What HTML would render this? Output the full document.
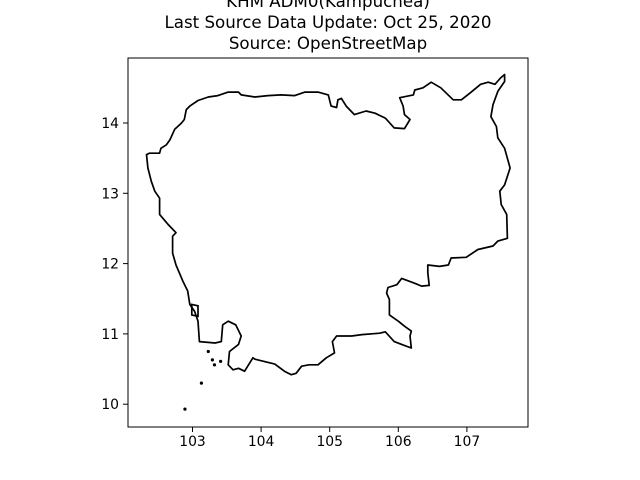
<!DOCTYPE html>
<html><head><meta charset="utf-8">
<style>
html,body{margin:0;padding:0;background:#fff;}
svg{display:block;font-family:"DejaVu Sans","Liberation Sans",sans-serif;}
</style></head>
<body>
<svg id="chart" width="640" height="480" viewBox="0 0 640 480">
  <g font-size="16.67" text-anchor="middle" fill="#000">
    <text x="328" y="7">KHM ADM0(Kampuchea)</text>
    <text x="328" y="28">Last Source Data Update: Oct 25, 2020</text>
    <text x="328" y="49">Source: OpenStreetMap</text>
  </g>
  <g id="plot"></g>
  <rect x="128" y="58" width="400" height="369" fill="none" stroke="#000" stroke-width="1"/>
  <g id="axes"></g>
</svg>
<script>
const lons = [102.33,102.37,102.52,102.54,102.62,102.67,102.74,102.84,102.88,102.91,102.96,103.08,103.23,103.37,103.52,103.67,103.71,103.91,104.10,104.29,104.49,104.64,104.83,104.98,105.02,105.10,105.12,105.17,105.24,105.36,105.53,105.66,105.81,105.94,106.09,106.17,106.09,106.07,106.02,106.22,106.24,106.36,106.48,106.62,106.80,106.92,107.05,107.20,107.31,107.41,107.49,107.55,107.55,107.45,107.38,107.35,107.43,107.45,107.55,107.63,107.55,107.48,107.50,107.58,107.59,107.45,107.38,107.16,106.99,106.77,106.73,106.60,106.43,106.43,106.45,106.34,106.24,106.05,105.98,105.85,105.83,105.87,105.87,106.00,106.09,106.19,106.17,106.19,106.05,105.94,105.81,105.73,105.47,105.32,105.10,105.04,105.07,104.95,104.83,104.70,104.59,104.51,104.44,104.34,104.20,103.91,103.88,103.76,103.67,103.59,103.52,103.54,103.67,103.71,103.63,103.52,103.44,103.42,103.33,103.10,103.08,103.03,102.96,102.93,102.86,102.76,102.71,102.71,102.76,102.65,102.52,102.52,102.45,102.40,102.35];
const lats = [13.55,13.57,13.57,13.64,13.69,13.76,13.91,14.00,14.05,14.19,14.24,14.32,14.37,14.39,14.44,14.44,14.40,14.37,14.39,14.40,14.39,14.44,14.44,14.40,14.24,14.22,14.33,14.35,14.24,14.12,14.17,14.14,14.07,13.93,13.92,14.05,14.12,14.24,14.36,14.40,14.47,14.50,14.58,14.50,14.33,14.33,14.43,14.55,14.58,14.55,14.64,14.69,14.59,14.45,14.26,14.09,13.95,13.79,13.64,13.36,13.12,13.03,12.84,12.70,12.36,12.32,12.25,12.20,12.09,12.08,11.98,11.96,11.98,11.87,11.69,11.68,11.72,11.79,11.70,11.66,11.58,11.49,11.27,11.18,11.11,11.04,10.97,10.80,10.85,10.89,11.03,11.01,10.99,10.97,10.97,10.89,10.73,10.66,10.56,10.56,10.54,10.44,10.42,10.47,10.57,10.64,10.66,10.47,10.51,10.49,10.56,10.75,10.85,10.97,11.13,11.18,11.13,10.89,10.87,10.89,11.18,11.32,11.42,11.61,11.75,11.98,12.15,12.39,12.44,12.55,12.70,12.93,13.03,13.17,13.36];
const islandLons = [102.99,103.08,103.08,102.99];
const islandLats = [11.42,11.40,11.25,11.27];
const dotLons = [103.23,103.29,103.41,103.13,102.89,103.32];
const dotLats = [10.75,10.63,10.61,10.30,9.93,10.56];
const xTicks = [103,104,105,106,107];
const yTicks = [10,11,12,13,14];

const NS='http://www.w3.org/2000/svg';
function xs(lon){return 192.5+(lon-103)*68.6;}
function ys(lat){return 123-(lat-14)*70.3;}
const plot=document.getElementById('plot');
const axes=document.getElementById('axes');
function mk(tag,attrs,parent){const e=document.createElementNS(NS,tag);for(const k in attrs)e.setAttribute(k,attrs[k]);parent.appendChild(e);return e;}

let d=lons.map((v,i)=>(i?'L':'M')+xs(v).toFixed(1)+','+ys(lats[i]).toFixed(1)).join('')+'Z';
const outline=mk('path',{d:d,fill:'none',stroke:'#000','stroke-width':1.7,'stroke-linejoin':'round'},plot);



let di=islandLons.map((v,i)=>(i?'L':'M')+xs(v).toFixed(1)+','+ys(islandLats[i]).toFixed(1)).join('')+'Z';
const isl=mk('path',{d:di,fill:'none',stroke:'#000','stroke-width':1.7},plot);



dotLons.forEach((v,i)=>{
  const c=mk('circle',{cx:xs(v),cy:ys(dotLats[i]),r:1.6,fill:'#000'},plot);
  
  
});

xTicks.forEach(t=>{
  const x=xs(t);
  const l=mk('line',{x1:x,x2:x,y1:427,y2:432,stroke:'#000','stroke-width':1},axes);
  
  
  const tx=mk('text',{x:x,y:446,'font-size':13.9,'text-anchor':'middle'},axes);
  tx.textContent=t;
  
  
});
yTicks.forEach(t=>{
  const y=ys(t);
  const l=mk('line',{x1:123,x2:128,y1:y,y2:y,stroke:'#000','stroke-width':1},axes);
  
  
  const tx=mk('text',{x:119,y:y+5,'font-size':13.9,'text-anchor':'end'},axes);
  tx.textContent=t;
  
  
});
</script>
</body></html>
